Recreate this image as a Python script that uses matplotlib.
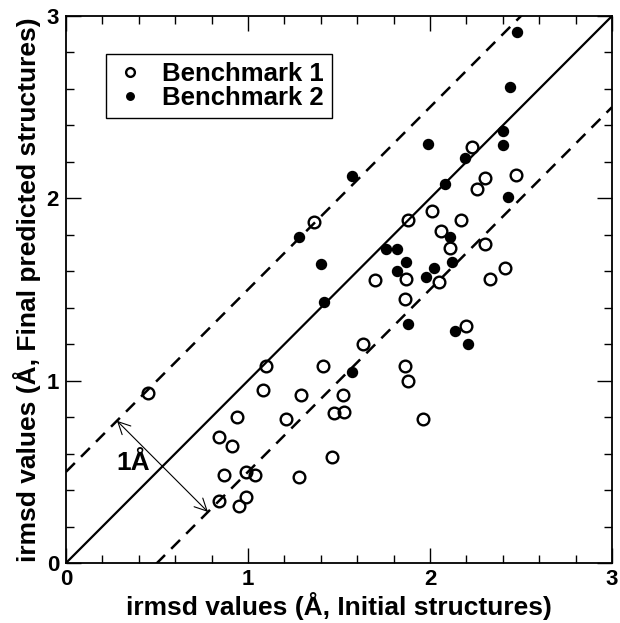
import matplotlib
matplotlib.use("Agg")
import matplotlib.pyplot as plt
from matplotlib.ticker import MultipleLocator
import numpy as np

plt.rcParams['font.family'] = ['Liberation Sans', 'DejaVu Sans']
plt.rcParams['font.weight'] = 'bold'

# Benchmark 1 (open circles)
b1_x = [2.23, 2.30, 2.26, 2.47, 1.36, 1.88, 2.01, 2.17, 2.06, 2.11, 2.30, 2.41,
        2.33, 1.70, 1.87, 2.05, 1.86, 2.20, 1.63, 1.86, 1.88, 1.10, 0.45, 1.08,
        1.29, 1.41, 0.94, 1.21, 0.84, 0.91, 0.87, 0.99, 1.04, 1.28, 0.84, 0.99,
        0.95, 1.46, 1.52, 1.47, 1.53, 1.96]
b1_y = [2.28, 2.11, 2.05, 2.13, 1.87, 1.88, 1.93, 1.88, 1.82, 1.73, 1.75, 1.62,
        1.56, 1.55, 1.56, 1.54, 1.45, 1.30, 1.20, 1.08, 1.00, 1.08, 0.93, 0.95,
        0.92, 1.08, 0.80, 0.79, 0.69, 0.64, 0.48, 0.50, 0.48, 0.47, 0.34, 0.36,
        0.31, 0.58, 0.92, 0.82, 0.83, 0.79]

# Benchmark 2 (filled circles)
b2_x = [2.48, 2.44, 2.40, 2.40, 1.99, 2.19, 1.57, 2.08, 2.43, 1.28, 1.40, 1.42,
        1.76, 1.82, 1.87, 1.82, 2.02, 1.98, 2.11, 2.12, 1.88, 2.14, 2.21, 1.57]
b2_y = [2.91, 2.61, 2.37, 2.29, 2.30, 2.22, 2.12, 2.08, 2.01, 1.79, 1.64, 1.43,
        1.72, 1.72, 1.65, 1.60, 1.62, 1.57, 1.79, 1.65, 1.31, 1.27, 1.20, 1.05]

labels = ["Benchmark 1", "Benchmark 2"]
ticks = [0, 1, 2, 3]

fig = plt.figure(figsize=(6.2, 6.23), dpi=100)
ax = fig.add_axes([66/620, 60/623, 546/620, 547/623])

line_x = np.array([0, 3])
ax.plot(line_x, line_x, color='black', lw=1.6, zorder=1)
ax.plot(line_x, line_x + 0.5, color='black', lw=1.8, dashes=(5, 3.5), zorder=1)
ax.plot(line_x, line_x - 0.5, color='black', lw=1.8, dashes=(5, 3.5), zorder=1)

ax.plot(b1_x, b1_y, 'o', mfc='none', mec='black', mew=1.7, ms=8.4,
        ls='none', label=labels[0], zorder=3)
ax.plot(b2_x, b2_y, 'o', mfc='black', mec='black', ms=7.2,
        ls='none', label=labels[1], zorder=3)

ax.annotate('', xy=(0.28, 0.78), xytext=(0.78, 0.28),
            arrowprops=dict(arrowstyle='<->', lw=0.8, color='black',
                            mutation_scale=22, shrinkA=0, shrinkB=0))
ax.text(0.37, 0.55, '1Å', fontsize=19, fontweight='bold', ha='center', va='center')

ax.set_xlim(0, 3)
ax.set_ylim(0, 3)
ax.set_xticks(ticks)
ax.set_yticks(ticks)
ax.xaxis.set_minor_locator(MultipleLocator(0.2))
ax.yaxis.set_minor_locator(MultipleLocator(0.2))
ax.tick_params(which='both', direction='in', top=True, right=True, width=1)
ax.tick_params(which='major', length=11, labelsize=16, pad=4)
ax.tick_params(axis='y', which='major', pad=5)
ax.tick_params(which='minor', length=5.5)
for lab in ax.get_xticklabels() + ax.get_yticklabels():
    lab.set_fontweight('bold')
for sp in ax.spines.values():
    sp.set_linewidth(1.3)

ax.set_xlabel('irmsd values (Å, Initial structures)', fontsize=19,
              fontweight='bold', labelpad=2)
ax.set_ylabel('irmsd values (Å, Final predicted structures)', fontsize=19,
              fontweight='bold', labelpad=4)

leg = ax.legend(loc='upper left', bbox_to_anchor=(0.073, 0.930),
                borderaxespad=0, fancybox=False, framealpha=1,
                edgecolor='black', prop=dict(size=18.5, weight='bold'),
                markerscale=0.75, handlelength=1.3, handletextpad=0.6,
                labelspacing=0.0, borderpad=0.3)
leg.get_frame().set_linewidth(1.0)

fig.savefig('out.png', dpi=100)
